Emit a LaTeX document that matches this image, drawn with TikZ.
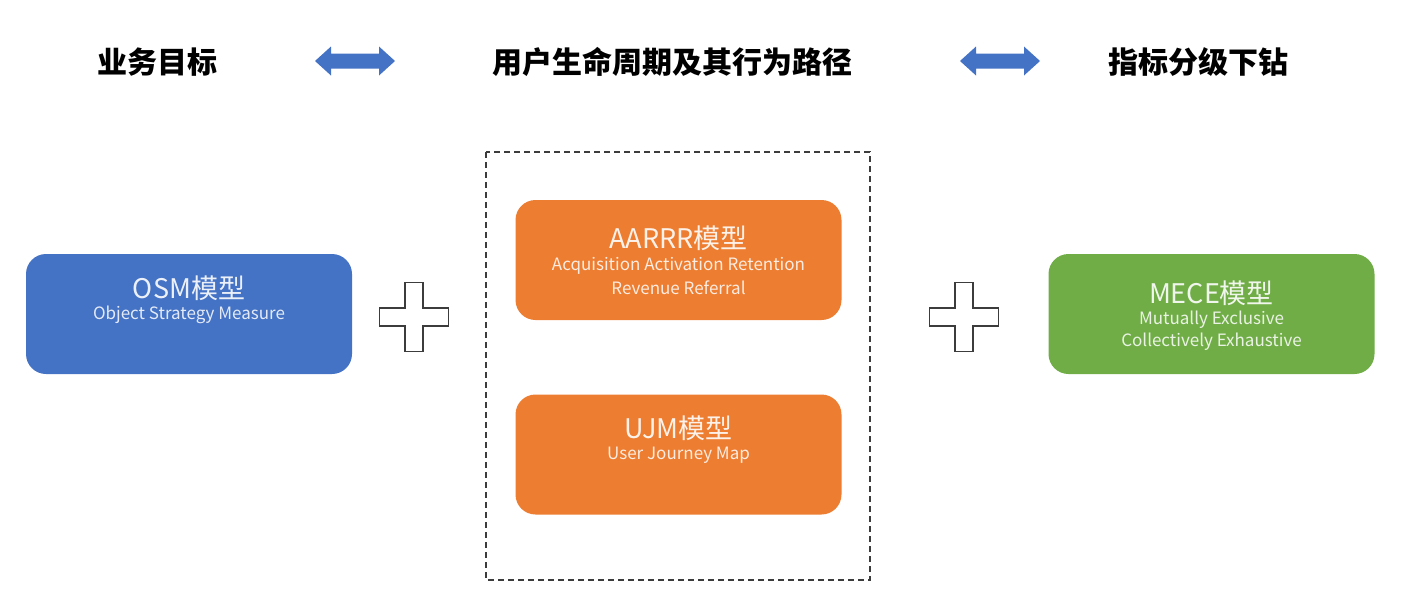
\documentclass[tikz,border=0pt]{standalone}
\usepackage{fontspec}
\setmainfont{Noto Sans CJK SC}
\usetikzlibrary{calc}

\definecolor{osmblue}{HTML}{4472C4}
\definecolor{ujmorange}{HTML}{ED7D31}
\definecolor{mecegreen}{HTML}{70AD47}
\definecolor{plusgray}{HTML}{3C3C3C}

\tikzset{
    heading/.style={font=\bfseries\fontsize{30}{34}\selectfont, text=black},
    modbox/.style={rounded corners=20pt, draw=none, minimum width=326pt, minimum height=120pt},
    modname/.style={text=white, text opacity=0.9, font=\fontsize{27}{30}\selectfont},
    moddesc/.style={text=white, text opacity=0.85, font=\fontsize{17}{20}\selectfont},
}

\begin{document}
\begin{tikzpicture}[x=1pt, y=-1pt]

        \useasboundingbox (0,0) rectangle (1428,598);

        \node (goal) [heading] at (157.5,62) {业务目标};
        \node (life) [heading] at (672,62) {用户生命周期及其行为路径};
        \node (drill) [heading] at (1198.5,62) {指标分级下钻};

        \foreach \ax in {355,1000}
            \fill [osmblue] (\ax,61) ++(-40,0) -- ++(16,-14.5) -- ++(0,7) -- ++(48,0) -- ++(0,-7)
                -- ++(16,14.5) -- ++(-16,14.5) -- ++(0,-7) -- ++(-48,0) -- ++(0,7) -- cycle;

        \draw [plusgray, line width=1.2pt, dash pattern=on 6pt off 4pt] (486,152) rectangle (870,580);

        \node (osm) [modbox, fill=osmblue] at (189,314) {};
        \node (aarrr) [modbox, fill=ujmorange] at (678.5,260) {};
        \node (ujm) [modbox, fill=ujmorange] at (678.5,454.5) {};
        \node (mece) [modbox, fill=mecegreen] at (1211.5,314) {};

        \node (osmname) [modname] at ($(osm) + (0,-26)$) {OSM模型};
        \node (osmdesc) [moddesc] at ($(osm) + (0,1)$) {Object Strategy Measure};
        \node (aarrrname) [modname] at ($(aarrr) + (0,-22)$) {AARRR模型};
        \node (aarrrdesca) [moddesc] at ($(aarrr) + (0,6)$) {Acquisition Activation Retention};
        \node (aarrrdescb) [moddesc] at ($(aarrr) + (0,28)$) {Revenue Referral};
        \node (ujmname) [modname] at ($(ujm) + (0,-26)$) {UJM模型};
        \node (ujmdesc) [moddesc] at ($(ujm) + (0,1)$) {User Journey Map};
        \node (mecename) [modname] at ($(mece) + (0,-21)$) {MECE模型};
        \node (mecedesca) [moddesc] at ($(mece) + (0,6)$) {Mutually Exclusive};
        \node (mecedescb) [moddesc] at ($(mece) + (0,28)$) {Collectively Exhaustive};

        \foreach \px in {414,964}
            \draw [plusgray, line width=1.5pt, fill=white] (\px,317) ++(-9,-34.5) -- ++(18,0) -- ++(0,25.5)
                -- ++(25.5,0) -- ++(0,18) -- ++(-25.5,0) -- ++(0,25.5) -- ++(-18,0) -- ++(0,-25.5)
                -- ++(-25.5,0) -- ++(0,-18) -- ++(25.5,0) -- cycle;

    \end{tikzpicture}
\end{document}
